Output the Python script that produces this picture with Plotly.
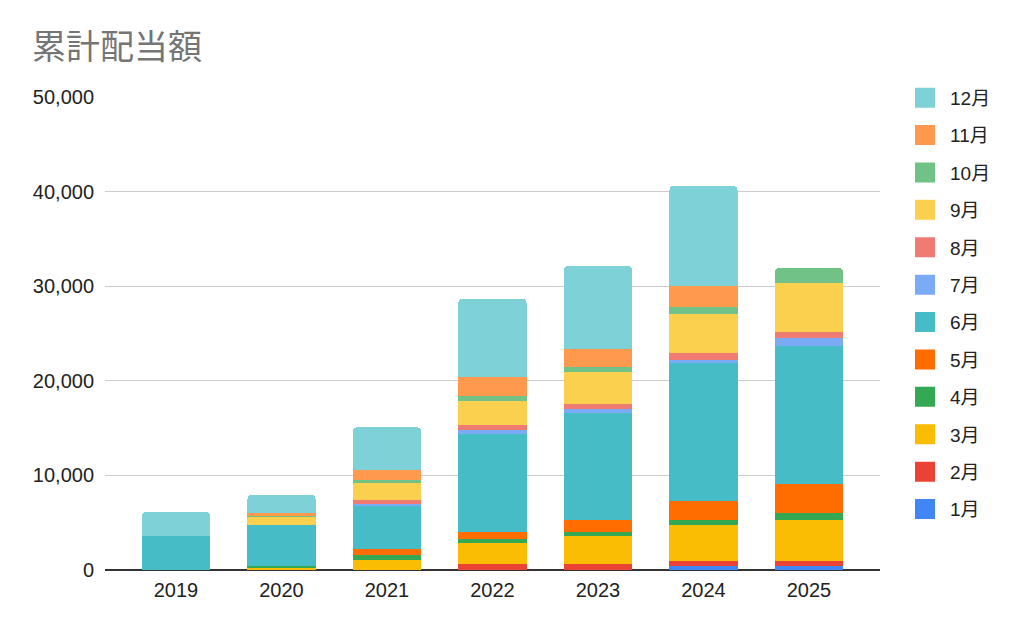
import plotly.graph_objects as go

years = ["2019", "2020", "2021", "2022", "2023", "2024", "2025"]
months = ["1月", "2月", "3月", "4月", "5月", "6月", "7月", "8月", "9月", "10月", "11月", "12月"]

m01 = [0, 0, 0, 0, 0, 420, 420]
m02 = [0, 0, 0, 600, 630, 530, 530]
m03 = [0, 250, 1090, 2250, 2990, 3770, 4330]
m04 = [0, 200, 530, 390, 350, 560, 700]
m05 = [0, 0, 600, 740, 1300, 2010, 3100]
m06 = [3630, 4260, 4620, 10430, 11310, 14590, 14590]
m07 = [0, 0, 100, 350, 390, 350, 880]
m08 = [0, 0, 420, 530, 530, 700, 560]
m09 = [0, 920, 1800, 2540, 3420, 4160, 5210]
m10 = [0, 180, 350, 560, 530, 700, 1620]
m11 = [0, 180, 1060, 1970, 1870, 2190, 0]
m12 = [2500, 1940, 4510, 8320, 8810, 10600, 0]

series = [m01, m02, m03, m04, m05, m06, m07, m08, m09, m10, m11, m12]
colors = ["#4285F4", "#EA4335", "#FBBC04", "#34A853", "#FF6D01", "#46BDC6",
          "#7BAAF7", "#F07B72", "#FCD04F", "#71C287", "#FF994D", "#7ED1D7"]

fig = go.Figure()
n = len(months)
for i, (name, vals, col) in enumerate(zip(months, series, colors)):
    fig.add_trace(go.Bar(
        x=years, y=vals, name=name, legendgroup=name, showlegend=False,
        marker=dict(color=col, line=dict(width=0)),
        hoverinfo="x+y+name",
    ))
    # legend proxy (no visible mark) to get larger square legend symbols
    fig.add_trace(go.Scatter(
        x=[None], y=[None], mode="markers", name=name, legendgroup=name,
        legendrank=n - i,
        marker=dict(symbol="square", size=16, color=col, line=dict(color=col, width=4)),
        hoverinfo="skip",
    ))

fig.update_layout(
    barmode="stack",
    bargap=0.355,
    barcornerradius=4,
    width=1024, height=633,
    paper_bgcolor="white", plot_bgcolor="white",
    margin=dict(l=97, r=152, t=89, b=71),
    font=dict(family="'Liberation Sans', Arial, 'Noto Sans CJK JP', sans-serif", size=20, color="#222222"),
    title=dict(text="累計配当額", x=0.0235, xanchor="left", y=0.938, yanchor="middle",
               font=dict(family="'Noto Sans CJK JP', sans-serif", size=34, color="#757575")),
    legend=dict(x=1.0258, xanchor="left", y=1.0385, yanchor="top",
                traceorder="grouped", tracegroupgap=9.7, itemsizing="trace", itemwidth=40,
                maxheight=600,
                font=dict(family="'Liberation Sans', Arial, 'Noto Sans CJK JP', sans-serif", size=19, color="#222222"),
                bgcolor="rgba(0,0,0,0)"),
    xaxis=dict(type="category", range=[-0.673, 6.673], showgrid=False,
               showline=False, ticks="", ticklabelstandoff=6),
    yaxis=dict(range=[0, 50000], dtick=10000, tickformat=",d", showgrid=True,
               gridcolor="#cccccc", gridwidth=1, zeroline=True, zerolinecolor="#333333",
               zerolinewidth=1.5, showline=False, ticks="", ticklabelstandoff=10),
)

fig.write_html("out.html")
